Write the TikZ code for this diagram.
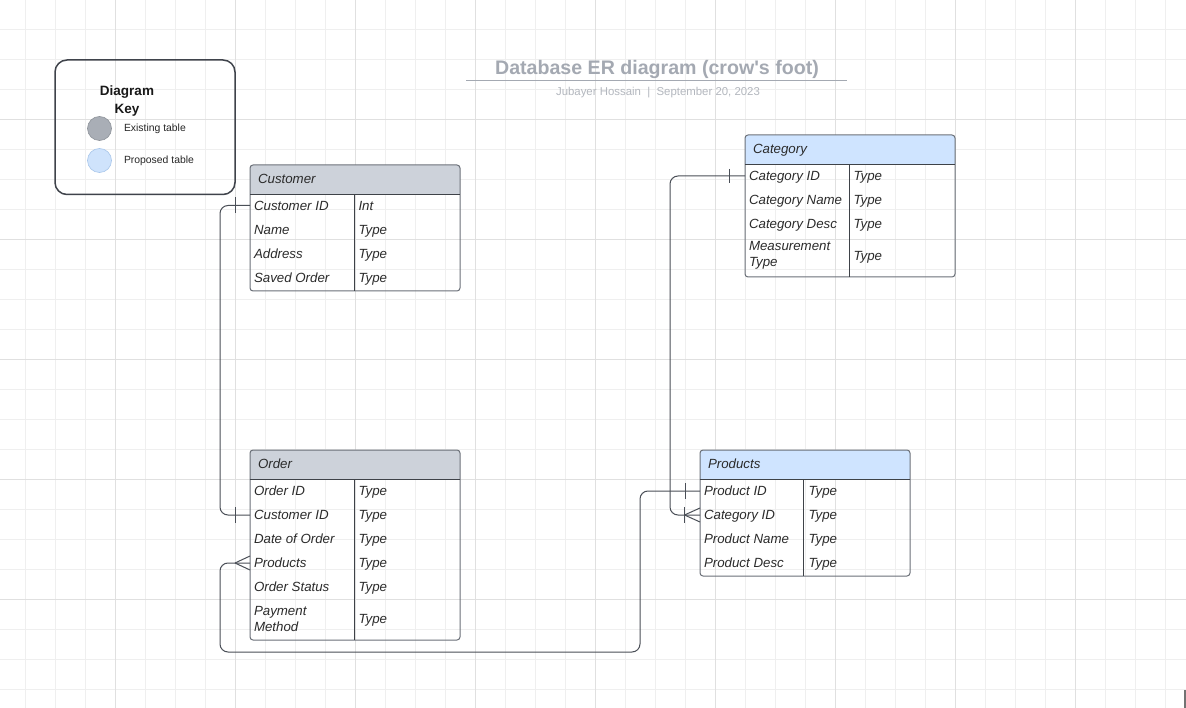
\documentclass[tikz,border=0pt]{standalone}
\usepackage{fontspec}
\setmainfont{Liberation Sans}[Ligatures=TeXOff]
\usetikzlibrary{calc}

\definecolor{gridminor}{HTML}{EFEFEF}
\definecolor{gridmajor}{HTML}{E0E0E0}
\definecolor{hdrgray}{HTML}{CDD2DA}
\definecolor{hdrblue}{HTML}{CFE4FF}
\definecolor{tblborder}{HTML}{6B7078}
\definecolor{tblline}{HTML}{3E4248}
\definecolor{ink}{HTML}{2B2B2B}
\definecolor{connink}{HTML}{4A4F57}
\definecolor{titlegray}{HTML}{A4A9B2}
\definecolor{subgray}{HTML}{B3B7BE}
\definecolor{keyborder}{HTML}{3F434B}
\definecolor{dotgray}{HTML}{A9AEB6}
\definecolor{dotgrayline}{HTML}{8E939A}
\definecolor{dotblue}{HTML}{CFE3FC}
\definecolor{dotblueline}{HTML}{A8C6EA}

% one field row: name, table left x, row y, field text, type text
\newcommand\erfield[5]{%
  \node[fld] (#1) at ({#2+4},#3) {#4};
  \node[fld] (#1-type) at ({#2+108.5},#3) {#5};}

\begin{document}
\begin{tikzpicture}[x=1pt, y=-1pt,
  every node/.style={inner sep=0pt, outer sep=0pt},
  tbl/.style={draw=tblborder, line width=1pt, rounded corners=3pt,
    minimum width=210pt, anchor=north west},
  grayhead/.style={path picture={\fill[hdrgray, sharp corners]
    (path picture bounding box.north west) rectangle
    ([yshift=-29.5pt]path picture bounding box.north east);}},
  bluehead/.style={path picture={\fill[hdrblue, sharp corners]
    (path picture bounding box.north west) rectangle
    ([yshift=-29.5pt]path picture bounding box.north east);}},
  rule/.style={draw=tblline, line width=1pt},
  fld/.style={anchor=west, font=\fontsize{13.3}{16}\selectfont\itshape,
    text=ink, text height=9.5pt, text depth=0pt, yshift=-0.8pt},
  fldtwo/.style={anchor=west, align=left,
    font=\fontsize{13.3}{16}\selectfont\itshape, text=ink, yshift=-0.8pt},
  hdrtxt/.style={fld},
  conn/.style={draw=connink, line width=1pt},
  connbend/.style={conn, rounded corners=8pt},
  keytxt/.style={anchor=west, font=\fontsize{10.4}{12}\selectfont,
    text=black!85, text height=7.5pt, text depth=0pt}
]
\fill[white] (0,0) rectangle (1186,708);
\useasboundingbox (0,0) rectangle (1186,708);

% background grid
\foreach \gx in {25.5,55.5,...,1165.5}
  \draw[gridminor, line width=1pt] (\gx,0) -- (\gx,708);
\foreach \gy in {29.5,59.5,...,689.5}
  \draw[gridminor, line width=1pt] (0,\gy) -- (1186,\gy);
\foreach \gx in {115.5,235.5,...,1075.5}
  \draw[gridmajor, line width=1pt] (\gx,0) -- (\gx,708);
\foreach \gy in {119.5,239.5,...,599.5}
  \draw[gridmajor, line width=1pt] (0,\gy) -- (1186,\gy);
\fill[black!55] (1184,690) rectangle (1186,708);

% title block
\node[font=\fontsize{19.6}{23}\selectfont\bfseries, text=titlegray, anchor=base]
  (title) at (657,74.5) {Database ER diagram (crow's foot)};
\draw[draw=titlegray, line width=1.5pt] (466,80.5) -- (847,80.5);
\node[font=\fontsize{11.4}{14}\selectfont, text=subgray, anchor=base]
  (subtitle) at (658,96) {Jubayer Hossain~~|~~September 20, 2023};

% legend
\node[draw=keyborder, line width=1.5pt, rounded corners=12pt, anchor=north west,
  minimum width=180pt, minimum height=134.5pt] (key) at (55,60) {};
\node[font=\fontsize{13.5}{17.6}\selectfont\bfseries, align=center, text=black!90]
  (key-title) at (127,101) {Diagram\\Key};
\node[circle, minimum size=24pt, fill=dotgray, draw=dotgrayline, line width=0.6pt]
  (existing-dot) at (99.5,128.5) {};
\node[circle, minimum size=24pt, fill=dotblue, draw=dotblueline, line width=0.6pt]
  (proposed-dot) at (99.5,160.5) {};
\node[keytxt] (existing-label) at (124,127.5) {Existing table};
\node[keytxt] (proposed-label) at (124,159.7) {Proposed table};

% Customer
\node[tbl, grayhead, minimum height=126pt] (customer) at (250,165) {};
\node[hdrtxt] (customer-title) at (258,178) {Customer};
\draw[rule] (customer.north west) ++(0,29.5) -- ++(210,0);
\draw[rule] (customer.north west) ++(104,29.5) -- ++(0,96.5);
\erfield{c-id}{250}{205}{Customer ID}{Int}
\erfield{c-name}{250}{229}{Name}{Type}
\erfield{c-addr}{250}{253}{Address}{Type}
\erfield{c-saved}{250}{277}{Saved Order}{Type}

% Order
\node[tbl, grayhead, minimum height=190pt] (order) at (250,450) {};
\node[hdrtxt] (order-title) at (258,463) {Order};
\draw[rule] (order.north west) ++(0,29.5) -- ++(210,0);
\draw[rule] (order.north west) ++(104,29.5) -- ++(0,160.5);
\erfield{o-id}{250}{490}{Order ID}{Type}
\erfield{o-cust}{250}{514}{Customer ID}{Type}
\erfield{o-date}{250}{538}{Date of Order}{Type}
\erfield{o-prod}{250}{562}{Products}{Type}
\erfield{o-status}{250}{586}{Order Status}{Type}
\node[fldtwo] (o-pay) at (254,618) {Payment\\Method};
\node[fld] (o-pay-type) at (358.5,618) {Type};

% Category
\node[tbl, bluehead, minimum height=142pt] (category) at (745,135) {};
\node[hdrtxt] (category-title) at (753,148) {Category};
\draw[rule] (category.north west) ++(0,29.5) -- ++(210,0);
\draw[rule] (category.north west) ++(104,29.5) -- ++(0,112.5);
\erfield{k-id}{745}{175}{Category ID}{Type}
\erfield{k-name}{745}{199}{Category Name}{Type}
\erfield{k-desc}{745}{223}{Category Desc}{Type}
\node[fldtwo] (k-meas) at (749,255) {Measurement\\Type};
\node[fld] (k-meas-type) at (853.5,255) {Type};

% Products
\node[tbl, bluehead, minimum height=126pt] (products) at (700,450) {};
\node[hdrtxt] (products-title) at (708,463) {Products};
\draw[rule] (products.north west) ++(0,29.5) -- ++(210,0);
\draw[rule] (products.north west) ++(103.5,29.5) -- ++(0,96.5);
\erfield{p-id}{700}{490}{Product ID}{Type}
\erfield{p-cat}{700}{514}{Category ID}{Type}
\erfield{p-name}{700}{538}{Product Name}{Type}
\erfield{p-desc}{700}{562}{Product Desc}{Type}

% relationship end points
\coordinate (cust-end) at ($(customer.west |- c-id)+(0,-0.3)$);
\coordinate (ord-cust-end) at ($(order.west |- o-cust)+(0,0.2)$);
\coordinate (ord-prod-end) at ($(order.west |- o-prod)+(0,0.2)$);
\coordinate (prod-id-end) at ($(products.west |- p-id)+(0,0.2)$);
\coordinate (cat-id-end) at ($(category.west |- k-id)+(0,0.2)$);
\coordinate (prod-cat-end) at ($(products.west |- p-cat)+(0,0.2)$);
\coordinate (bus-low) at (640,652);

% Customer 1 -- 1 Order
\draw[connbend] (cust-end) -- ++(-30,0) |- (ord-cust-end);
\draw[conn] (cust-end) ++(-15,-8) -- ++(0,16);
\draw[conn] (ord-cust-end) ++(-15,-8) -- ++(0,16);

% Order many -- 1 Products
\draw[connbend] (ord-prod-end) -- ++(-30,0) |- (bus-low) |- (prod-id-end);
\draw[conn] (ord-prod-end) ++(-15,0) -- ++(15,-7)
            (ord-prod-end) ++(-15,0) -- ++(15,7);
\draw[conn] (prod-id-end) ++(-15,-8) -- ++(0,16);

% Category 1 -- 1..many Products
\draw[connbend] (cat-id-end) -- ++(-75,0) |- (prod-cat-end);
\draw[conn] (cat-id-end) ++(-16,-7) -- ++(0,14);
\draw[conn] (prod-cat-end) ++(-15.5,-8) -- ++(0,16);
\draw[conn] (prod-cat-end) ++(-15.5,0) -- ++(15.5,-7)
            (prod-cat-end) ++(-15.5,0) -- ++(15.5,7);
\end{tikzpicture}
\end{document}
